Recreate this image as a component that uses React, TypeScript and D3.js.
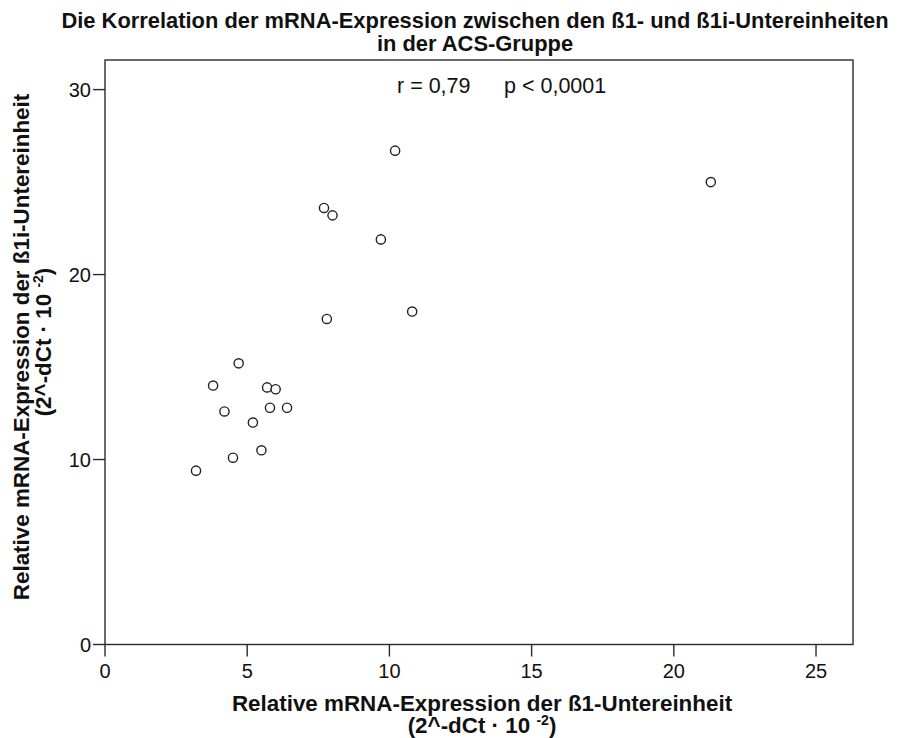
import React from "react";
import * as d3 from "d3";

// β1 (x) and β1i (y) relative mRNA expression per patient, 2^-dCt · 10^-2
const beta1: number[] = [3.2, 3.8, 4.2, 4.5, 4.7, 5.2, 5.5, 5.7, 5.8, 6.0, 6.4, 7.7, 7.8, 8.0, 9.7, 10.2, 10.8, 21.3];
const beta1i: number[] = [9.4, 14.0, 12.6, 10.1, 15.2, 12.0, 10.5, 13.9, 12.8, 13.8, 12.8, 23.6, 17.6, 23.2, 21.9, 26.7, 18.0, 25.0];

const xTicks: number[] = [0, 5, 10, 15, 20, 25];
const yTicks: number[] = [0, 10, 20, 30];

const titleLines: string[] = [
  "Die Korrelation der mRNA-Expression zwischen den ß1- und ß1i-Untereinheiten",
  "in der ACS-Gruppe",
];
const xLabel = "Relative mRNA-Expression der ß1-Untereinheit";
const yLabel = "Relative mRNA-Expression der ß1i-Untereinheit";
const statR = "r = 0,79";
const statP = "p < 0,0001";

const W = 906;
const H = 738;
const frame = { left: 105, right: 853, top: 60, bottom: 644.5 };

const FONT = "'Liberation Sans', Arial, Helvetica, sans-serif";
const INK = "#111";
const LINE = "#2b2b2b";

function UnitLabel() {
  return (
    <>
      {"(2^-dCt · 10 "}
      <tspan fontSize="14" dy="-8">-2</tspan>
      <tspan dy="8">)</tspan>
    </>
  );
}

export default function App() {
  const x = d3.scaleLinear().domain([0, 26.3]).range([frame.left, frame.right]);
  const y = d3.scaleLinear().domain([0, 31.6]).range([frame.bottom, frame.top]);

  const points = beta1.map((v, i) => ({ x: v, y: beta1i[i] }));

  return (
    <svg
      width={W}
      height={H}
      viewBox={`0 0 ${W} ${H}`}
      style={{ position: "absolute", left: 0, top: 0, background: "#fff" }}
      fontFamily={FONT}
    >
      <rect x={0} y={0} width={W} height={H} fill="#fff" />

      {/* title */}
      <text textAnchor="middle" fontWeight="bold" fontSize="21.9" fill={INK}>
        <tspan x={475} y={28}>{titleLines[0]}</tspan>
        <tspan x={475} y={51}>{titleLines[1]}</tspan>
      </text>

      {/* plot frame */}
      <rect
        x={frame.left}
        y={frame.top}
        width={frame.right - frame.left}
        height={frame.bottom - frame.top}
        fill="none"
        stroke={LINE}
        strokeWidth={1.4}
      />

      {/* y axis ticks */}
      {yTicks.map((t) => (
        <g key={`y${t}`}>
          <line x1={frame.left - 12} x2={frame.left} y1={y(t)} y2={y(t)} stroke={LINE} strokeWidth={1.4} />
          <text x={frame.left - 14} y={y(t) + 7} textAnchor="end" fontSize="20" fill={INK}>
            {t}
          </text>
        </g>
      ))}

      {/* x axis ticks */}
      {xTicks.map((t) => (
        <g key={`x${t}`}>
          <line x1={x(t)} x2={x(t)} y1={frame.bottom} y2={frame.bottom + 12} stroke={LINE} strokeWidth={1.4} />
          <text x={x(t)} y={frame.bottom + 33} textAnchor="middle" fontSize="20" fill={INK}>
            {t}
          </text>
        </g>
      ))}

      {/* correlation statistics */}
      <text x={397} y={93} fontSize="21.5" fill={INK}>{statR}</text>
      <text x={504} y={93} fontSize="21.5" fill={INK}>{statP}</text>

      {/* data points */}
      {points.map((p, i) => (
        <circle key={i} cx={x(p.x)} cy={y(p.y)} r={4.6} fill="#fff" stroke="#222" strokeWidth={1.4} />
      ))}

      {/* x axis title */}
      <text x={482} y={711} textAnchor="middle" fontWeight="bold" fontSize="22.4" fill={INK}>
        {xLabel}
      </text>
      <text x={482} y={733} textAnchor="middle" fontWeight="bold" fontSize="22.4" fill={INK}>
        <UnitLabel />
      </text>

      {/* y axis title */}
      <g transform="translate(29,347) rotate(-90)">
        <text x={0} y={0} textAnchor="middle" fontWeight="bold" fontSize="22.4" fill={INK}>
          {yLabel}
        </text>
      </g>
      <g transform="translate(51,342) rotate(-90)">
        <text x={0} y={0} textAnchor="middle" fontWeight="bold" fontSize="22.4" fill={INK}>
          <UnitLabel />
        </text>
      </g>
    </svg>
  );
}
